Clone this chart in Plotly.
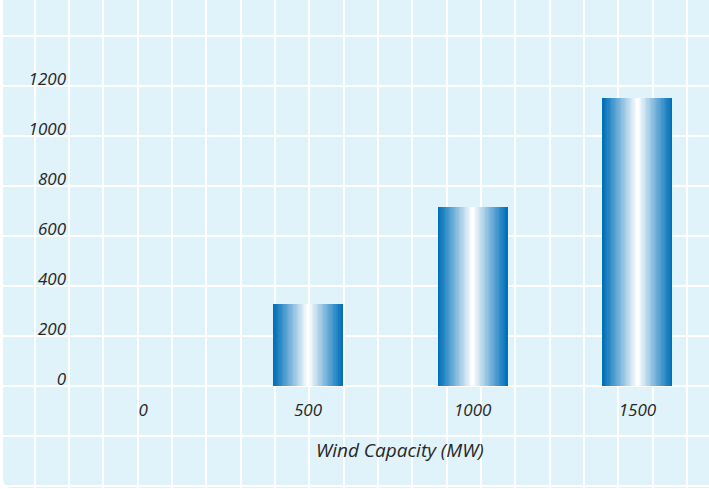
import plotly.graph_objects as go

# Wind capacity categories and the corresponding values
categories = ["0", "500", "1000", "1500"]
values = [0, 327, 716, 1152]

# Y tick positions (gridlines every 200) and their labels
y_tick_values = [-400, -200, 0, 200, 400, 600, 800, 1000, 1200, 1400]
y_tick_labels = ["", "", "0", "200", "400", "600", "800", "1000", "1200", ""]

x_title = "Wind Capacity (MW)"

W, H = 709, 489
ML, MB = 3, 1                      # white strip on the left / bottom
PW, PH = W - ML, H - MB            # plot area in pixels

BG = "rgb(224,242,250)"
GRID = "white"
TEXT = "#262626"
FONT = "Open Sans"

BLUE = (0, 112, 186)
WHITE = (255, 255, 255)

# category axis: category 0 centred at x=143px, one category = 164.7px
cat_px = 164.7
x0_px = 143.3
x_range = [-(x0_px - ML) / cat_px, (W - x0_px) / cat_px]

# value axis: 0 at y=385.7px, 0.2497px per unit
y_scale = 0.2497
zero_px = 385.7
y_range = [-(PH - zero_px) / y_scale, zero_px / y_scale]

bar_width = 0.425

fig = go.Figure()

# Horizontal blue -> white -> blue shading built from nested overlaid bars
n_layers = 28
for k in range(n_layers):
    t = k / (n_layers - 1)
    t = t ** 1.05
    c = tuple(round(BLUE[i] + (WHITE[i] - BLUE[i]) * t) for i in range(3))
    fig.add_trace(go.Bar(
        x=categories,
        y=values,
        width=bar_width * (1 - k / n_layers),
        marker=dict(color=f"rgb{c}", line=dict(width=0)),
        hoverinfo="skip" if k else "x+y",
        showlegend=False,
        xaxis="x",
        yaxis="y",
    ))

# helper trace so the vertical grid axis is created
fig.add_trace(go.Scatter(x=[], y=[], xaxis="x2", yaxis="y", showlegend=False))

# vertical background grid every 34.33px
grid_px = 34.33
grid_off = 0.5

fig.update_layout(
    width=W,
    height=H,
    margin=dict(l=ML, r=0, t=0, b=MB, pad=0),
    paper_bgcolor="white",
    plot_bgcolor=BG,
    barmode="overlay",
    bargap=0,
    font=dict(family=FONT, color=TEXT),
    xaxis=dict(
        type="category",
        range=x_range,
        showgrid=False,
        zeroline=False,
        showline=False,
        ticks="",
        anchor="free",
        position=(PH - 398) / PH,
        tickfont=dict(family=FONT, size=17, color=TEXT, style="italic"),
    ),
    xaxis2=dict(
        overlaying="x",
        range=[(ML - grid_off) / grid_px, (W - grid_off) / grid_px],
        tick0=0,
        dtick=1,
        showgrid=True,
        gridcolor=GRID,
        gridwidth=2,
        showticklabels=False,
        ticks="",
        zeroline=False,
        showline=False,
        anchor="y",
    ),
    yaxis=dict(
        range=y_range,
        tickmode="array",
        tickvals=y_tick_values,
        ticktext=y_tick_labels,
        showgrid=True,
        gridcolor=GRID,
        gridwidth=2,
        zeroline=False,
        showline=False,
        ticks="",
        anchor="free",
        position=(66 - ML) / PW,
        ticklabelshift=-7,
        tickfont=dict(family=FONT, size=17, color=TEXT, style="italic"),
    ),
    annotations=[dict(
        text=x_title,
        xref="paper", yref="paper",
        x=(400 - ML) / PW, y=(PH - 450) / PH,
        xanchor="center", yanchor="middle",
        showarrow=False,
        font=dict(family=FONT, size=19, color=TEXT, style="italic"),
    )],
    shapes=[
        # white patch rounding the bottom-left corner
        dict(
            type="path",
            xref="paper", yref="paper",
            path=(f"M {0} {0} L {0} {10/PH} "
                  f"Q {0} {0} {10/PW} {0} Z"),
            fillcolor="white",
            line=dict(width=0),
            layer="above",
        ),
    ],
)

fig.write_html("out.html")
